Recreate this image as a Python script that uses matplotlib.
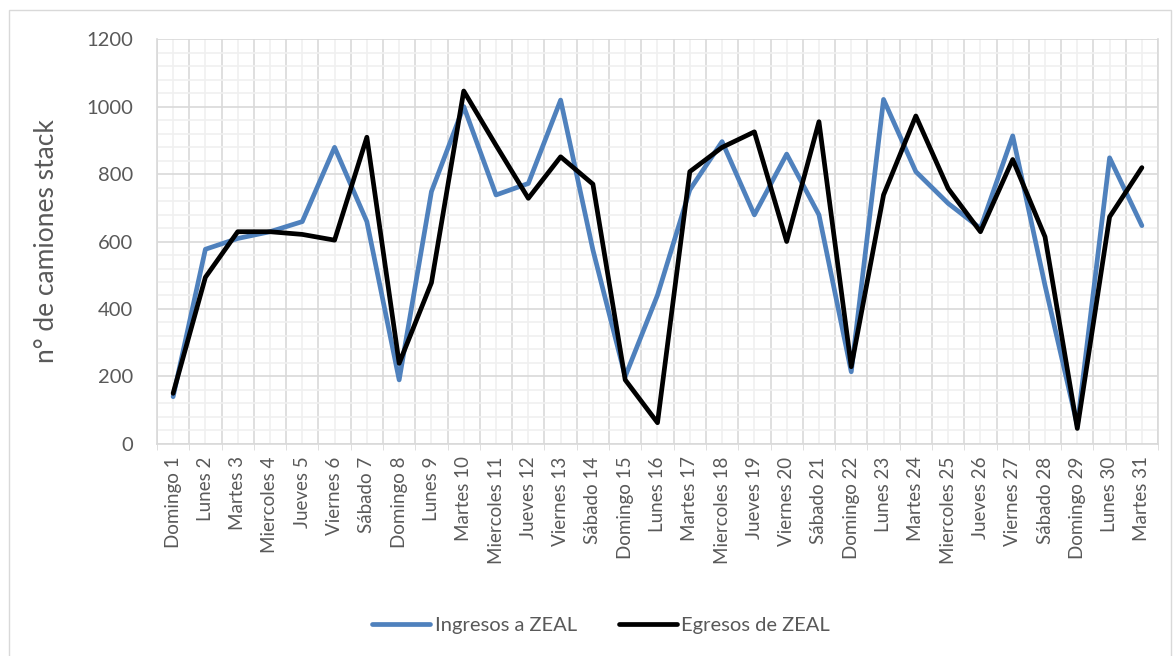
import matplotlib
matplotlib.use("Agg")
import matplotlib.pyplot as plt
from matplotlib.patches import Rectangle
from matplotlib.ticker import MultipleLocator, FixedLocator

plt.rcParams['font.family'] = ['Lato', 'DejaVu Sans']

dias = ["Domingo 1", "Lunes 2", "Martes 3", "Miercoles 4", "Jueves 5", "Viernes 6", "Sábado 7",
        "Domingo 8", "Lunes 9", "Martes 10", "Miercoles 11", "Jueves 12", "Viernes 13", "Sábado 14",
        "Domingo 15", "Lunes 16", "Martes 17", "Miercoles 18", "Jueves 19", "Viernes 20", "Sábado 21",
        "Domingo 22", "Lunes 23", "Martes 24", "Miercoles 25", "Jueves 26", "Viernes 27", "Sábado 28",
        "Domingo 29", "Lunes 30", "Martes 31"]

ingresos = [140, 577, 609, 629, 659, 879, 659, 190, 748, 1000, 738, 772, 1019, 575, 200, 441,
            753, 896, 679, 859, 679, 214, 1021, 807, 713, 639, 913, 470, 55, 848, 647]
egresos = [150, 494, 629, 629, 621, 604, 909, 239, 478, 1046, 885, 728, 851, 770, 190, 63,
           807, 879, 925, 600, 955, 229, 738, 972, 757, 629, 843, 614, 46, 673, 819]

texto = '#595959'

fig = plt.figure(figsize=(11.74, 6.56), dpi=100)
ax = fig.add_axes([0.1337, 0.3232, 0.8527, 0.6173])

x = list(range(len(dias)))
ax.plot(x, ingresos, color='#4f81bd', lw=3.4, label='Ingresos a ZEAL',
        solid_joinstyle='round', solid_capstyle='round', zorder=3)
ax.plot(x, egresos, color='black', lw=3.4, label='Egresos de ZEAL',
        solid_joinstyle='round', solid_capstyle='round', zorder=4)

ax.set_xlim(-0.5, len(dias) - 0.5)
ax.set_ylim(0, 1200)

# ejes y rejilla al estilo de excel
ax.yaxis.set_major_locator(MultipleLocator(200))
ax.yaxis.set_minor_locator(MultipleLocator(40))
ax.set_xticks(x)
ax.set_xticklabels(dias, rotation=90, fontsize=13.5, color=texto)
ax.xaxis.set_minor_locator(FixedLocator([i - 0.5 for i in range(len(dias) + 1)]))
ax.grid(which='major', axis='y', color='#d9d9d9', lw=1.2)
ax.grid(which='minor', axis='y', color='#f0f0f0', lw=1.2)
ax.grid(which='minor', axis='x', color='#d9d9d9', lw=1.2)
ax.grid(which='major', axis='x', color='#f0f0f0', lw=1.2)
ax.set_axisbelow(True)

ax.tick_params(axis='y', which='both', length=0, labelsize=14.5, colors=texto, pad=17)
ax.tick_params(axis='x', which='major', length=0, pad=9)
ax.tick_params(axis='x', which='minor', length=4, color='#d9d9d9')
ax.spines['top'].set_visible(False)
for s in ['left', 'right', 'bottom']:
    ax.spines[s].set_color('#d9d9d9')
    ax.spines[s].set_linewidth(1.2)

ax.set_ylabel('n° de camiones stack', fontsize=19, color=texto, labelpad=20)

leg = fig.legend(loc='center', bbox_to_anchor=(0.512, 0.047), ncol=2, frameon=False,
                 fontsize=14.5, handlelength=2.9, handletextpad=0.2, columnspacing=2.1)
for t in leg.get_texts():
    t.set_color(texto)

fig.patches.append(Rectangle((9 / 1174, -0.01), 1162 / 1174, 1 - 10 / 656 + 0.01,
                             transform=fig.transFigure, fill=False, edgecolor='#d9d9d9', lw=1))

fig.savefig('out.png', dpi=100)
